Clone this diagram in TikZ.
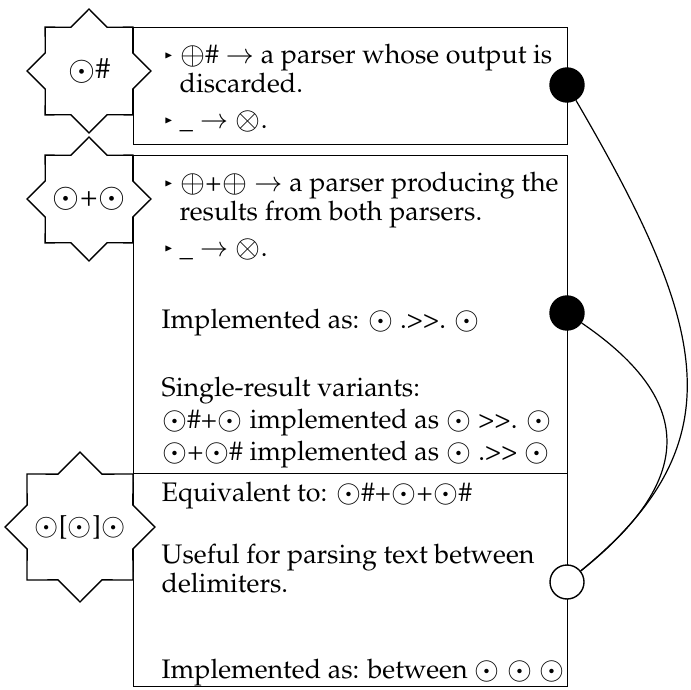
\documentclass[tikz,border=0pt]{standalone}
\usepackage[T1]{fontenc}
\usepackage{mathpazo}
\usepackage{amssymb}
\usepackage{graphicx}
\usepackage{tikz}
\usetikzlibrary{shapes.geometric, positioning}

\tikzstyle{seal} = [star, 
			star points=8, 
			star point ratio=1.31, 
			draw, 
			fill=white, 
			inner sep=0pt, 
			minimum size=62pt, 
			font=\fontsize{14.5}{16}\selectfont]
\tikzstyle{panel} = [rectangle, 
			draw, 
			anchor=north west, 
			minimum width=217pt]
\tikzstyle{txt} = [anchor=north west, 
			inner sep=0pt, 
			align=left, 
			font=\fontsize{13.4}{14.5}\selectfont]
\tikzstyle{dot} = [circle, draw, fill=black, minimum size=17pt, inner sep=0pt]
\tikzstyle{hole} = [dot, fill=white]
\tikzstyle{line} = [draw, line width=.6pt]

% bullets, indents and the circled parser symbols
\newcommand{\pbul}{\makebox[9pt][l]{\hspace{1.5pt}\raisebox{.35ex}{\tiny$\blacktriangleright$}}}
\newcommand{\pind}{\hspace*{9pt}}
\newcommand{\po}{\raisebox{-.1ex}{\scalebox{1.15}{$\odot$}}}
\newcommand{\pplus}{\raisebox{-.1ex}{\scalebox{1.15}{$\oplus$}}}
\newcommand{\ptimes}{\raisebox{-.1ex}{\scalebox{1.15}{$\otimes$}}}
% seal labels take no room, the seal size comes from minimum size
\newcommand{\sealtext}[1]{\makebox[0pt]{#1}}

\begin{document}
\begin{tikzpicture}[x=.5pt, y=.5pt, line width=.7pt]
	\useasboundingbox (0,0) rectangle (691,-690);
	% the three panels
	\node [panel, minimum height=58.5pt] (skipBox) at (133,-27) {};
	\node [panel, minimum height=159pt] (bothBox) at (133,-155) {};
	\node [panel, minimum height=106.5pt] (betweenBox) at (133,-473) {};
	% panel texts
	\node [txt, below right=8pt and 14pt of skipBox.north west] (skipText) {
		\pbul\pplus\# $\rightarrow$ a parser whose output is\\
		\pind discarded.\\[3.5pt]
		\pbul\_ $\rightarrow$ \ptimes.};
	\node [txt, below right=8pt and 14pt of bothBox.north west] (bothText) {
		\pbul\pplus+\pplus\ $\rightarrow$ a parser producing the\\
		\pind results from both parsers.\\[3.5pt]
		\pbul\_ $\rightarrow$ \ptimes.\\[21.5pt]
		Implemented as: \po{} .>{}>. \po\\[19.5pt]
		Single-result variants:\\[1.5pt]
		\po\#+\po{} implemented as \po{} >{}>. \po\\[1.5pt]
		\po+\po\# implemented as \po{} .>{}> \po};
	\node [txt, below right=4pt and 14pt of betweenBox.north west] (betweenText) {
		Equivalent to: \po\#+\po+\po\#\\[16.5pt]
		Useful for parsing text between\\
		delimiters.\\[28.5pt]
		Implemented as: between \po{} \po{} \po};
	% combinator seals
	\node [seal] (skipStar) at (89,-71) {\sealtext{\po\#}};
	\node [seal] (bothStar) at (89,-199) {\sealtext{\po+\po}};
	\node [seal, minimum size=75pt, font=\fontsize{13}{14}\selectfont] (betweenStar) at (80,-527) {\sealtext{\po[\po]\po}};
	% ports and links
	\node [dot] (skipDot) at (567,-85) {};
	\node [dot] (bothDot) at (567,-313) {};
	\node [hole] (betweenDot) at (567,-582) {};
	\path [line] (skipDot) .. controls +(140,-240) and +(172,140) .. (betweenDot);
	\path [line] (bothDot) .. controls +(132,-90) and +(125,100) .. (betweenDot);
\end{tikzpicture}
\end{document}
